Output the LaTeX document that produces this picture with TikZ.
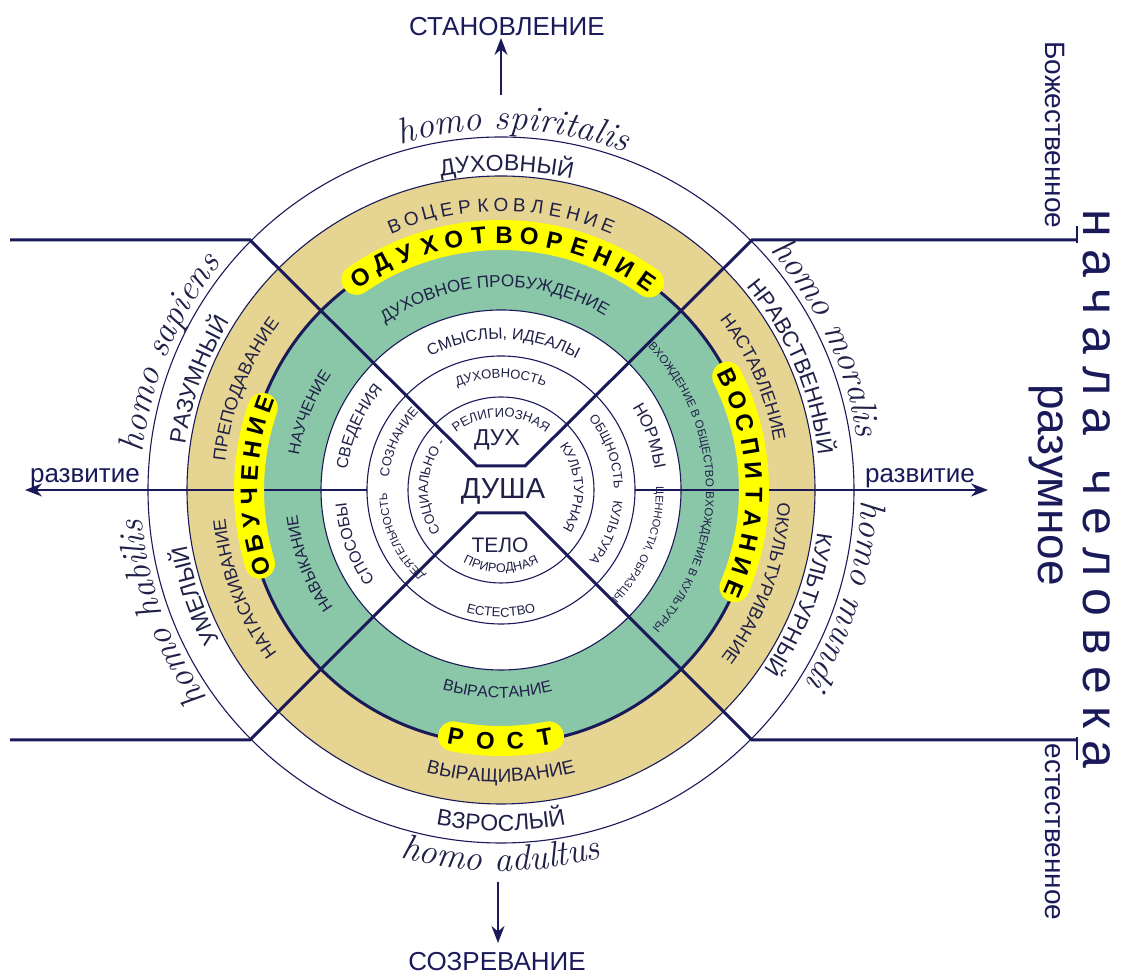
\documentclass[tikz,border=0pt]{standalone}
\usepackage{fontspec}
\newfontfamily\cyr{Liberation Sans}
\usetikzlibrary{decorations.text,arrows.meta,calc}
\definecolor{navy}{RGB}{26,26,90}
\definecolor{txt}{RGB}{32,32,72}
\definecolor{tanc}{RGB}{229,212,146}
\definecolor{tealc}{RGB}{138,199,168}
\definecolor{yel}{RGB}{255,255,0}
\newcommand{\fs}[1]{\fontsize{#1pt}{#1pt}\selectfont}
\newcommand{\ringf}[1]{\color{txt}\cyr\fs{#1}}
\newcommand{\homof}[1]{\color{txt}\itshape\fs{#1}}
\newcommand{\lsp}{\hspace{12pt}}
\newcommand{\cwtext}[4]{%
  \path[decorate,decoration={text along path,text align=center,text={|#3|#4}}]
  ($(C)+({#2+80}:#1pt)$) arc[start angle={#2+80},end angle={#2-80},radius=#1pt];}
\newcommand{\ccwtext}[4]{%
  \path[decorate,decoration={text along path,text align=center,text={|#3|#4}}]
  ($(C)+({#2-80}:#1pt)$) arc[start angle={#2-80},end angle={#2+80},radius=#1pt];}
\newcommand{\spacedtext}[7]{%
  \foreach \ch [count=\i] in {#6} {%
    \pgfmathsetmacro{\ang}{#2+(\i-1)*(#3)}%
    \node[inner sep=0pt,font=#5,rotate=\ang+#4] (#7-\i) at ($(C)+(\ang:#1pt)$) {\ch};}}
\begin{document}
\begin{tikzpicture}[x=1pt,y=1pt,
  ringline/.style={draw=navy,line width=1.1pt},
  boldline/.style={draw=navy,line width=3pt},
  arrowline/.style={draw=navy,line width=1.4pt,-{Stealth[length=17pt,width=13pt]}},
  hilite/.style={draw=yel,line width=30pt,line cap=round},
  label/.style={text=navy,inner sep=0pt,font=\cyr\fs{26}}]
\useasboundingbox (0,0) rectangle (1122,976);
\fill[white] (0,0) rectangle (1122,976);
\coordinate (C) at (501,486);
% ring fills
\fill[white] (C) circle[radius=353pt];
\fill[tanc] (C) circle[radius=314pt];
\fill[tealc] (C) circle[radius=254pt];
\fill[white] (C) circle[radius=180pt];
% ring lines
\draw[ringline] (C) circle[radius=353pt];
\draw[ringline] (C) circle[radius=314pt];
\draw[ringline] (C) circle[radius=180pt];
\draw[ringline] (C) circle[radius=134pt];
\draw[ringline] (C) circle[radius=93pt];
\draw[boldline] (C) circle[radius=254pt];
% axes
\coordinate (axLi) at (367,486); \coordinate (axLo) at (25,486);
\coordinate (axRi) at (635,486); \coordinate (axRo) at (988,486);
\coordinate (aTi) at (501,881); \coordinate (aTo) at (501,938);
\coordinate (aBi) at (498,94); \coordinate (aBo) at (498,33);
\draw[arrowline] (axLi) -- (axLo);
\draw[arrowline] (axRi) -- (axRo);
\draw[arrowline] (aTi) -- (aTo);
\draw[arrowline] (aBi) -- (aBo);
% hexagon, diagonals and side lines
\coordinate (hTL) at (477,510); \coordinate (hTR) at (525,510);
\coordinate (hBL) at (477,463); \coordinate (hBR) at (525,463);
\coordinate (dTL) at (250,736); \coordinate (dTR) at (752,736);
\coordinate (dBL) at (250,236); \coordinate (dBR) at (752,236);
\coordinate (lTL) at (10,736);  \coordinate (lTR) at (1077,736);
\coordinate (lBL) at (10,236);  \coordinate (lBR) at (1077,236);
\coordinate (tT1) at (1077,750); \coordinate (tT2) at (1077,733);
\coordinate (tB1) at (1077,239); \coordinate (tB2) at (1077,216);
\draw[boldline] (lTL) -- (dTL) -- (hTL) -- (hTR) -- (dTR) -- (lTR);
\draw[boldline] (lBL) -- (dBL) -- (hBL) -- (hBR) -- (dBR) -- (lBR);
\draw[navy,line width=1.6pt] (tT1) -- (tT2);
\draw[navy,line width=1.6pt] (tB1) -- (tB2);
% yellow highlights
\draw[hilite] ($(C)+(124.5:255pt)$) arc[start angle=124.5,end angle=54.5,radius=255pt];
\draw[hilite] ($(C)+(161:252pt)$) arc[start angle=161,end angle=197,radius=252pt];
\draw[hilite] ($(C)+(26.6:253pt)$) arc[start angle=26.6,end angle=-22.6,radius=253pt];
\draw[hilite] ($(C)+(259:251pt)$) arc[start angle=259,end angle=281,radius=251pt];
% bold spaced labels
\spacedtext{255}{123.5}{-5.7}{-90}{\cyr\bfseries\fs{24}}{О,Д,У,Х,О,Т,В,О,Р,Е,Н,И,Е}{odu}
\spacedtext{252}{197.6}{-5.37}{-90}{\cyr\bfseries\fs{24}}{О,Б,У,Ч,Е,Н,И,Е}{obu}
\spacedtext{253}{26.3}{-5.48}{-90}{\cyr\bfseries\fs{24}}{В,О,С,П,И,Т,А,Н,И,Е}{vos}
\spacedtext{251}{259.6}{6.83}{90}{\cyr\bfseries\fs{24}}{Р,О,С,Т}{ros}
\spacedtext{285}{112}{-3.67}{-90}{\color{txt}\cyr\fs{19}}{В,О,Ц,Е,Р,К,О,В,Л,Е,Н,И,Е}{voc}
% outer ring
\cwtext{319}{89}{\ringf{23}}{ДУХОВНЫЙ}
\cwtext{319}{160}{\ringf{23}}{РАЗУМНЫЙ}
\cwtext{319}{199}{\ringf{23}}{УМЕЛЫЙ}
\cwtext{319}{23}{\ringf{22}}{НРАВСТВЕННЫЙ}
\cwtext{319}{-21}{\ringf{22}}{КУЛЬТУРНЫЙ}
\ccwtext{341}{270}{\ringf{23}}{ВЗРОСЛЫЙ}
% tan ring
\cwtext{277}{158.5}{\ringf{18}}{ПРЕПОДАВАНИЕ}
\cwtext{277}{201}{\ringf{18}}{НАТАСКИВАНИЕ}
\cwtext{277}{24}{\ringf{18}}{НАСТАВЛЕНИЕ}
\cwtext{277}{-20}{\ringf{18}}{ОКУЛЬТУРИВАНИЕ}
\ccwtext{292}{270}{\ringf{19}}{ВЫРАЩИВАНИЕ}
% teal ring
\cwtext{203}{92}{\ringf{17}}{ДУХОВНОЕ ПРОБУЖДЕНИЕ}
\cwtext{205}{158}{\ringf{16}}{НАУЧЕНИЕ}
\cwtext{205}{201}{\ringf{16}}{НАВЫКАНИЕ}
\cwtext{205}{22.5}{\ringf{11.5}}{ВХОЖДЕНИЕ В ОБЩЕСТВО}
\cwtext{205}{-21.5}{\ringf{11.5}}{ВХОЖДЕНИЕ В КУЛЬТУРЫ}
\ccwtext{208}{269}{\ringf{16}}{ВЫРАСТАНИЕ}
% ring 3
\cwtext{151}{89}{\ringf{16}}{СМЫСЛЫ, ИДЕАЛЫ}
\cwtext{155}{156}{\ringf{16}}{СВЕДЕНИЯ}
\cwtext{155}{200}{\ringf{16}}{СПОСОБЫ}
\cwtext{155}{20}{\ringf{17}}{НОРМЫ}
\cwtext{155}{-21.7}{\ringf{11}}{ЦЕННОСТИ, ОБРАЗЦЫ}
% ring 2
\cwtext{112}{90}{\ringf{13}}{ДУХОВНОСТЬ}
\cwtext{113}{155}{\ringf{13}}{СОЗНАНИЕ}
\cwtext{114}{205}{\ringf{11.5}}{ДЕЯТЕЛЬНОСТЬ}
\cwtext{113}{20}{\ringf{13}}{ОБЩНОСТЬ}
\cwtext{113}{-22}{\ringf{13}}{КУЛЬТУРА}
\ccwtext{127}{270}{\ringf{13}}{ЕСТЕСТВО}
% inner circle
\cwtext{73}{90}{\ringf{13}}{РЕЛИГИОЗНАЯ}
\cwtext{73}{177}{\ringf{13.5}}{СОЦИАЛЬНО -}
\cwtext{73}{2}{\ringf{13.5}}{КУЛЬТУРНАЯ}
\ccwtext{82}{270}{\ringf{12.5}}{ПРИРОДНАЯ}
\node[text=txt,inner sep=0pt,font=\cyr\fs{23}] (dukh) at (497,536) {ДУХ};
\node[text=txt,inner sep=0pt,font=\cyr\fs{29}] (dusha) at (503,485) {ДУША};
\node[text=txt,inner sep=0pt,font=\cyr\fs{21}] (telo) at (500,431) {ТЕЛО};
% homo labels
\cwtext{360}{88}{\homof{36}}{homo spiritalis}
\cwtext{360}{157.5}{\homof{36}}{homo sapiens}
\cwtext{360}{200}{\homof{36}}{homo habilis}
\cwtext{360}{25}{\homof{36}}{homo moralis}
\cwtext{360}{-17}{\homof{36}}{homo mundi}
\ccwtext{381}{270}{\homof{36}}{homo adultus}
% arrow labels
\node[label] (stan) at (507,949) {СТАНОВЛЕНИЕ};
\node[label] (sozr) at (497,14) {СОЗРЕВАНИЕ};
\node[label,anchor=base] (razvL) at (85,493) {развитие};
\node[label,anchor=base] (razvR) at (920,493) {развитие};
% right-hand texts
\node[text=navy,inner sep=0pt,rotate=-90,font=\cyr\fs{50}] (nach) at (1097,487)
  {н\lsp а\lsp ч\lsp а\lsp л\lsp а\hspace{34pt}ч\lsp е\lsp л\lsp о\lsp в\lsp е\lsp к\lsp а};
\node[text=navy,inner sep=0pt,rotate=-90,anchor=base,font=\cyr\fs{46}] (razum) at (1038,491) {разумное};
\node[text=navy,inner sep=0pt,rotate=-90,anchor=base,font=\cyr\fs{28}] (bozh) at (1045,841) {Божественное};
\node[text=navy,inner sep=0pt,rotate=-90,anchor=base,font=\cyr\fs{28}] (estv) at (1045,144) {естественное};
\end{tikzpicture}
\end{document}
